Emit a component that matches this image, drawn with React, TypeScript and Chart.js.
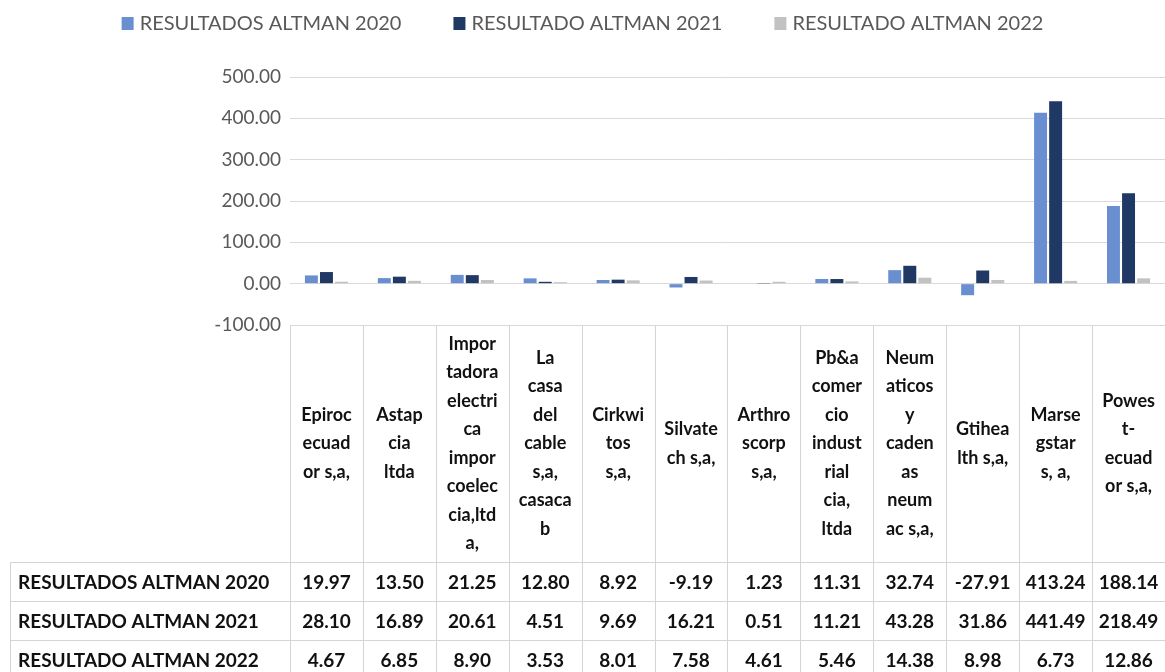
import React, { useEffect, useRef } from "react";
import { Chart, registerables } from "chart.js";

Chart.register(...registerables);

const categories: string[][] = [
  ["Epiroc", "ecuad", "or s,a,"],
  ["Astap", "cia", "ltda"],
  ["Impor", "tadora", "electri", "ca", "impor", "coelec", "cia,ltd", "a,"],
  ["La", "casa", "del", "cable", "s,a,", "casaca", "b"],
  ["Cirkwi", "tos", "s,a,"],
  ["Silvate", "ch s,a,"],
  ["Arthro", "scorp", "s,a,"],
  ["Pb&a", "comer", "cio", "indust", "rial", "cia,", "ltda"],
  ["Neum", "aticos", "y", "caden", "as", "neum", "ac s,a,"],
  ["Gtihea", "lth s,a,"],
  ["Marse", "gstar", "s, a,"],
  ["Powes", "t-", "ecuad", "or s,a,"],
];

const seriesNames = [
  "RESULTADOS ALTMAN 2020",
  "RESULTADO ALTMAN 2021",
  "RESULTADO ALTMAN 2022",
];

const altman2020 = [19.97, 13.5, 21.25, 12.8, 8.92, -9.19, 1.23, 11.31, 32.74, -27.91, 413.24, 188.14];
const altman2021 = [28.1, 16.89, 20.61, 4.51, 9.69, 16.21, 0.51, 11.21, 43.28, 31.86, 441.49, 218.49];
const altman2022 = [4.67, 6.85, 8.9, 3.53, 8.01, 7.58, 4.61, 5.46, 14.38, 8.98, 6.73, 12.86];

const yMin = -100;
const yMax = 500;
const yStep = 100;

const seriesColors = ["#6a8fd1", "#203864", "#c2c2c2"];
const FONT = "Lato, 'Noto Sans', sans-serif";

const tablePlugin = {
  id: "excelTable",
  afterDraw(chart: any) {
    const ctx = chart.ctx as CanvasRenderingContext2D;
    const area = chart.chartArea;
    const xs = chart.scales.x;
    const n = categories.length;
    const colW = (area.right - area.left) / n;
    const series = [altman2020, altman2021, altman2022];

    // legend
    ctx.save();
    ctx.font = `20px ${FONT}`;
    ctx.textBaseline = "middle";
    ctx.textAlign = "left";
    const boxW = 12;
    const gapBoxText = 6;
    const itemGap = 52;
    const widths = seriesNames.map((s) => boxW + gapBoxText + ctx.measureText(s).width);
    const total = widths.reduce((a, b) => a + b, 0) + itemGap * (widths.length - 1);
    let lx = chart.width / 2 - total / 2;
    const ly = 23;
    seriesNames.forEach((s, i) => {
      ctx.fillStyle = seriesColors[i];
      ctx.fillRect(lx, ly - 6, boxW, 13);
      ctx.fillStyle = "#595959";
      ctx.fillText(s, lx + boxW + gapBoxText, ly + 1);
      lx += widths[i] + itemGap;
    });
    ctx.restore();

    // table
    const top = area.bottom;
    const headerBottom = 562;
    const rowH = 39;
    const rowLeft = 10;
    ctx.save();
    ctx.strokeStyle = "#d4d4d4";
    ctx.lineWidth = 1;
    ctx.beginPath();
    for (let i = 0; i <= n; i++) {
      const x = Math.round((i < n ? xs.getPixelForValue(i) - colW / 2 : xs.getPixelForValue(n - 1) + colW / 2)) + 0.5;
      ctx.moveTo(x, top);
      ctx.lineTo(x, headerBottom + rowH * 3 + 5);
    }
    ctx.moveTo(rowLeft + 0.5, headerBottom);
    ctx.lineTo(rowLeft + 0.5, headerBottom + rowH * 3 + 5);
    for (let r = 0; r <= 3; r++) {
      const y = Math.round(headerBottom + r * rowH) + 0.5;
      ctx.moveTo(rowLeft, y);
      ctx.lineTo(area.right, y);
    }
    ctx.stroke();

    // header text
    ctx.fillStyle = "#111111";
    ctx.font = `bold 18px ${FONT}`;
    ctx.textAlign = "center";
    ctx.textBaseline = "middle";
    const lineH = 28.5;
    const midY = (top + headerBottom) / 2;
    categories.forEach((lines, i) => {
      const cx = xs.getPixelForValue(i);
      const startY = midY - ((lines.length - 1) * lineH) / 2;
      lines.forEach((ln, j) => ctx.fillText(ln, cx, startY + j * lineH));
    });

    // rows
    series.forEach((vals, r) => {
      const cy = headerBottom + r * rowH + rowH / 2 + 1;
      ctx.textAlign = "left";
      ctx.font = `bold 19px ${FONT}`;
      ctx.fillText(seriesNames[r], rowLeft + 8, cy);
      ctx.textAlign = "center";
      vals.forEach((v, i) => {
        ctx.fillText(v.toFixed(2), xs.getPixelForValue(i), cy);
      });
    });
    ctx.restore();
  },
};

export default function App() {
  const canvasRef = useRef<HTMLCanvasElement | null>(null);

  useEffect(() => {
    document.body.style.margin = "0";
    const canvas = canvasRef.current;
    if (!canvas) return;
    const chart = new Chart(canvas, {
      type: "bar",
      data: {
        labels: categories.map((c) => c.join(" ")),
        datasets: [
          { label: seriesNames[0], data: altman2020, backgroundColor: seriesColors[0] },
          { label: seriesNames[1], data: altman2021, backgroundColor: seriesColors[1] },
          { label: seriesNames[2], data: altman2022, backgroundColor: seriesColors[2] },
        ],
      },
      options: {
        responsive: false,
        animation: false,
        devicePixelRatio: 1,
        layout: { padding: { top: 77, bottom: 672 - 325, left: 0, right: 0 } },
        datasets: {
          bar: { categoryPercentage: 0.62, barPercentage: 0.86, borderWidth: 0 },
        },
        plugins: {
          legend: { display: false },
          tooltip: { enabled: false },
          title: { display: false },
        },
        scales: {
          x: { display: false, offset: true },
          y: {
            min: yMin,
            max: yMax,
            border: { display: false },
            grid: { color: "#d9d9d9", lineWidth: 1, drawTicks: false },
            afterFit: (s: any) => {
              s.width = 290;
            },
            ticks: {
              stepSize: yStep,
              padding: 9,
              color: "#595959",
              font: { family: FONT, size: 19 },
              callback: (v: any) => Number(v).toFixed(2),
            },
          },
        },
      } as any,
      plugins: [tablePlugin],
    });
    return () => chart.destroy();
  }, []);

  return <canvas ref={canvasRef} width={1165} height={672} style={{ display: "block" }} />;
}
